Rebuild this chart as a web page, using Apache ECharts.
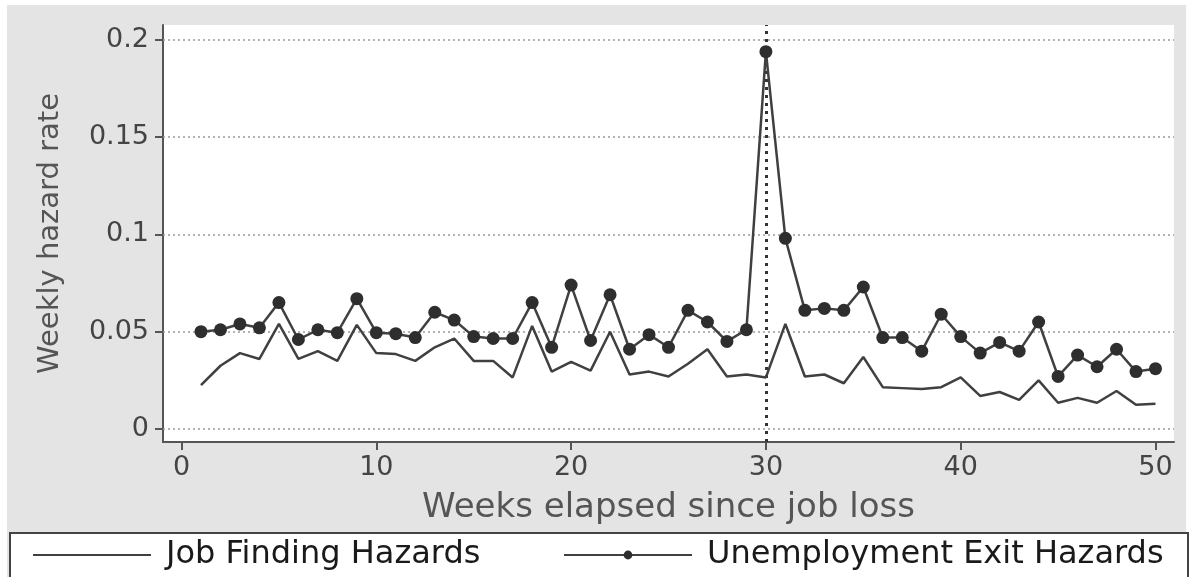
<!DOCTYPE html>
<html>
<head>
<meta charset="utf-8">
<script src="https://cdn.jsdelivr.net/npm/echarts@6/dist/echarts.min.js"></script>
<style>
html,body{margin:0;padding:0;background:#ffffff;}
#chart{width:1193px;height:577px;}
</style>
</head>
<body>
<div id="chart"></div>
<script>
const weeks = [1,2,3,4,5,6,7,8,9,10,11,12,13,14,15,16,17,18,19,20,21,22,23,24,25,26,27,28,29,30,31,32,33,34,35,36,37,38,39,40,41,42,43,44,45,46,47,48,49,50];
const jobFinding = [0.0225,0.0325,0.039,0.036,0.054,0.036,0.040,0.035,0.0535,0.039,0.0385,0.035,0.042,0.0465,0.035,0.035,0.0265,0.053,0.0295,0.0345,0.030,0.050,0.028,0.0295,0.027,0.0335,0.041,0.027,0.028,0.0265,0.054,0.027,0.028,0.0235,0.037,0.0215,0.021,0.0205,0.0215,0.0265,0.017,0.019,0.015,0.025,0.0135,0.016,0.0135,0.0195,0.0125,0.013];
const exitHazard = [0.050,0.051,0.054,0.052,0.065,0.046,0.051,0.0495,0.067,0.0495,0.049,0.047,0.060,0.056,0.0475,0.0465,0.0465,0.065,0.042,0.074,0.0455,0.069,0.041,0.0485,0.042,0.061,0.055,0.045,0.051,0.194,0.098,0.061,0.062,0.061,0.073,0.047,0.047,0.040,0.059,0.0475,0.039,0.0445,0.040,0.055,0.027,0.038,0.032,0.041,0.0295,0.031];
const xTicks = [0,10,20,30,40,50];
const yTicks = [0,0.05,0.1,0.15,0.2];
const seriesNames = ['Job Finding Hazards','Unemployment Exit Hazards'];
const xTitle = 'Weeks elapsed since job loss';
const yTitle = 'Weekly hazard rate';
const cutoffWeek = 30;

const FONT = 'DejaVu Sans';
const chart = echarts.init(document.getElementById('chart'), null, {renderer:'canvas'});
const option = {
  animation:false,
  backgroundColor:'#ffffff',
  graphic:[
    {type:'rect', z:-100, shape:{x:7,y:5,width:1179,height:572}, style:{fill:'#e4e4e4'}},
    {type:'rect', z:1, shape:{x:10,y:533,width:1178,height:48}, style:{fill:'#ffffff', stroke:'#444444', lineWidth:2}}
  ],
  grid:{left:163, top:25, width:1011, height:417, show:true, backgroundColor:'#ffffff', borderWidth:0},
  xAxis:{
    type:'value', min:-0.95, max:50.95,
    name:xTitle, nameLocation:'middle', nameGap:49,
    nameTextStyle:{fontFamily:FONT, fontSize:34, color:'#555555'},
    axisLine:{show:true, onZero:false, lineStyle:{color:'#555555', width:2}},
    axisTick:{show:true, customValues:xTicks, length:8, lineStyle:{color:'#555555', width:2}},
    axisLabel:{customValues:xTicks, fontFamily:FONT, fontSize:27, color:'#444444', margin:12},
    splitLine:{show:false}
  },
  yAxis:{
    type:'value', min:-0.0067, max:0.2077,
    name:yTitle, nameLocation:'middle', nameGap:98, nameRotate:90,
    nameTextStyle:{fontFamily:FONT, fontSize:29, color:'#555555'},
    axisLine:{show:true, onZero:false, lineStyle:{color:'#555555', width:2}},
    axisTick:{show:true, customValues:yTicks, length:8, lineStyle:{color:'#555555', width:2}},
    axisLabel:{customValues:yTicks, fontFamily:FONT, fontSize:27, color:'#444444', margin:14},
    splitLine:{show:false}
  },
  legend:[
    {data:[seriesNames[0]], left:32, top:539, padding:0, itemWidth:118, itemHeight:12,
     itemStyle:{color:'rgba(0,0,0,0)', borderWidth:0},
     textStyle:{fontFamily:FONT, fontSize:32, color:'#1a1a1a', padding:[0,0,0,10]}},
    {data:[seriesNames[1]], left:563, top:539, padding:0, itemWidth:128, itemHeight:11,
     textStyle:{fontFamily:FONT, fontSize:32, color:'#1a1a1a', padding:[0,0,0,10]}}
  ],
  series:[
    {
      name:seriesNames[0], type:'line', symbol:'none', z:3,
      data:weeks.map((w,i)=>[w, jobFinding[i]]),
      lineStyle:{color:'#404040', width:2.5}, itemStyle:{color:'#404040'},
      markLine:{
        silent:true, symbol:'none', z:1, label:{show:false},
        lineStyle:{color:'#9a9a9a', type:[2,3], width:1.5},
        data:yTicks.map(v=>({yAxis:v}))
      }
    },
    {
      name:seriesNames[1], type:'line', symbol:'circle', symbolSize:13, z:4,
      data:weeks.map((w,i)=>[w, exitHazard[i]]),
      lineStyle:{color:'#404040', width:2.5}, itemStyle:{color:'#2e2e2e'},
      markLine:{
        silent:true, symbol:'none', z:2, label:{show:false},
        lineStyle:{color:'#333333', type:[3,5], width:3},
        data:[{xAxis:cutoffWeek}]
      }
    }
  ]
};
chart.setOption(option);
</script>
</body>
</html>
